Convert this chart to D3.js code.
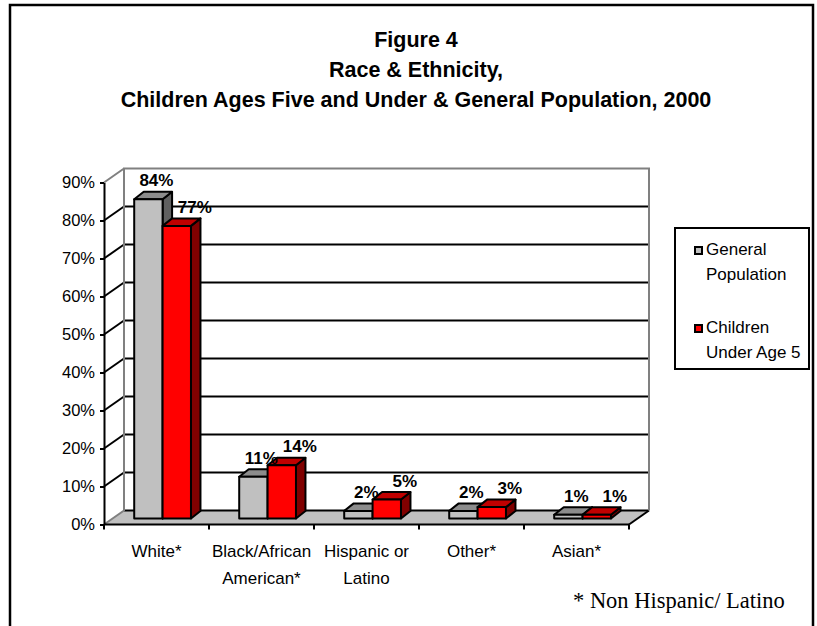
<!DOCTYPE html>
<html>
<head>
<meta charset="utf-8">
<script src="https://cdn.jsdelivr.net/npm/d3@7"></script>
<style>
  body { margin: 0; background: #fff; }
  text { font-family: Arial, "Liberation Sans", sans-serif; }
</style>
</head>
<body>
<svg id="chart" width="817" height="626"></svg>
<script>
const categories = ["White*", "Black/African American*", "Hispanic or Latino", "Other*", "Asian*"];
const categoryLines = [["White*"], ["Black/African", "American*"], ["Hispanic or", "Latino"], ["Other*"], ["Asian*"]];
const seriesNames = ["General Population", "Children Under Age 5"];
const legendLines = [["General", "Population"], ["Children", "Under Age 5"]];
const generalPop = [0.84, 0.11, 0.02, 0.02, 0.01];
const childrenUnder5 = [0.77, 0.14, 0.05, 0.03, 0.01];
const yTicks = [0, 0.1, 0.2, 0.3, 0.4, 0.5, 0.6, 0.7, 0.8, 0.9];
const titleLines = ["Figure 4", "Race & Ethnicity,", "Children Ages Five and Under & General Population, 2000"];
const footnote = "* Non Hispanic/ Latino";

const svg = d3.select("#chart");

// outer frame
svg.append("rect")
  .attr("x", 10).attr("y", 5)
  .attr("width", 803).attr("height", 640)
  .attr("fill", "none").attr("stroke", "#000").attr("stroke-width", 2.5);

// title
svg.append("g").selectAll("text")
  .data(titleLines)
  .enter()
  .append("text")
  .attr("x", 416)
  .attr("y", (d, i) => 46.5 + i * 30)
  .attr("text-anchor", "middle")
  .style("font-size", "21.5px")
  .style("font-weight", "bold")
  .text(d => d);

// 3d geometry
const DX = 20, DY = -14;            // wall depth
const BX = 8.5, BY = -6;            // bar front offset
const BDX = 9.5, BDY = -7.5;        // bar depth

const x = d3.scaleBand().domain(categories).range([104, 629]);
const xs = d3.scaleBand().domain(seriesNames).range([0, x.bandwidth()])
  .paddingOuter(0.85).align(0.45);
const y = d3.scaleLinear().domain([0, 0.9]).range([524.5, 182.5]);

const x0 = 104, x1 = 629;
const yTop = y(0.9), yBase = y(0);

// side wall and back wall (white)
svg.append("path")
  .attr("d", `M${x0},${yBase} L${x0},${yTop} L${x0 + DX},${yTop + DY} L${x0 + DX},${yBase + DY} Z`)
  .attr("fill", "#fff");

// gridlines on back wall and side wall
const grid = svg.append("g");
yTicks.filter(t => t > 0 && t < 0.9).forEach(t => {
  grid.append("line")
    .attr("x1", x0 + DX).attr("x2", x1 + DX)
    .attr("y1", y(t) + DY).attr("y2", y(t) + DY)
    .attr("stroke", "#000").attr("stroke-width", 2);
  grid.append("line")
    .attr("x1", x0).attr("x2", x0 + DX)
    .attr("y1", y(t)).attr("y2", y(t) + DY)
    .attr("stroke", "#000").attr("stroke-width", 2);
});

// floor
svg.append("path")
  .attr("d", `M${x0},${yBase} L${x1},${yBase} L${x1 + DX},${yBase + DY} L${x0 + DX},${yBase + DY} Z`)
  .attr("fill", "#c0c0c0");
svg.append("line")
  .attr("x1", x0 + DX).attr("x2", x1 + DX)
  .attr("y1", yBase + DY).attr("y2", yBase + DY)
  .attr("stroke", "#000").attr("stroke-width", 2);
svg.append("line")
  .attr("x1", x1).attr("x2", x1 + DX)
  .attr("y1", yBase).attr("y2", yBase + DY)
  .attr("stroke", "#000").attr("stroke-width", 2);

// gray wall edges
svg.append("path")
  .attr("d", `M${x0},${yBase} L${x0 + DX},${yBase + DY} L${x0 + DX},${yTop + DY} L${x1 + DX},${yTop + DY} L${x1 + DX},${yBase + DY}
              M${x0},${yTop} L${x0 + DX},${yTop + DY}`)
  .attr("fill", "none").attr("stroke", "#808080").attr("stroke-width", 2);

// y axis
const yAxis = svg.append("g")
  .attr("transform", `translate(${x0},0)`)
  .call(d3.axisLeft(y).tickValues(yTicks).tickFormat(d3.format(".0%")).tickSize(4).tickSizeOuter(0).tickPadding(5));
yAxis.select(".domain").attr("stroke-width", 2);
yAxis.selectAll(".tick line").attr("stroke-width", 2);
yAxis.selectAll("text").style("font-size", "16.5px").attr("fill", "#000")
  .style("font-family", "Arial, 'Liberation Sans', sans-serif");

// x axis line and ticks
svg.append("line")
  .attr("x1", x0).attr("x2", x1)
  .attr("y1", yBase).attr("y2", yBase)
  .attr("stroke", "#000").attr("stroke-width", 2);
const tickXs = categories.map(c => x(c)).concat([x1]);
svg.append("g").selectAll("line")
  .data(tickXs)
  .enter()
  .append("line")
  .attr("x1", d => d).attr("x2", d => d)
  .attr("y1", yBase).attr("y2", yBase + 5)
  .attr("stroke", "#000").attr("stroke-width", 2);

// category labels
const catLabels = svg.append("g").selectAll("text")
  .data(categories)
  .enter()
  .append("text")
  .attr("text-anchor", "middle")
  .style("font-size", "17px");
catLabels.each(function (c, i) {
  d3.select(this).selectAll("tspan")
    .data(categoryLines[i])
    .enter()
    .append("tspan")
    .attr("x", x(c) + x.bandwidth() / 2)
    .attr("y", (d, j) => 557 + j * 27)
    .text(d => d);
});

// bars
const colors = [
  { front: "#c0c0c0", top: "#8c8c8c", side: "#606060" },
  { front: "#ff0000", top: "#c00000", side: "#800000" }
];
const seriesValues = [generalPop, childrenUnder5];
const bars = svg.append("g");
const fmt = d3.format(".0%");
categories.forEach((c, i) => {
  seriesNames.forEach((s, k) => {
    const v = seriesValues[k][i];
    const bx = x(c) + xs(s) + BX;
    const bw = xs.bandwidth();
    const yb = yBase + BY;
    const yt = y(v) + BY;
    const col = colors[k];
    const g = bars.append("g")
      .attr("stroke", "#000").attr("stroke-width", 2).attr("stroke-linejoin", "round");
    g.append("path")
      .attr("d", `M${bx + bw},${yt} L${bx + bw + BDX},${yt + BDY} L${bx + bw + BDX},${yb + BDY} L${bx + bw},${yb} Z`)
      .attr("fill", col.side);
    g.append("path")
      .attr("d", `M${bx},${yt} L${bx + bw},${yt} L${bx + bw + BDX},${yt + BDY} L${bx + BDX},${yt + BDY} Z`)
      .attr("fill", col.top);
    g.append("rect")
      .attr("x", bx).attr("y", yt)
      .attr("width", bw).attr("height", yb - yt)
      .attr("fill", col.front);
  });
});

// value labels
categories.forEach((c, i) => {
  seriesNames.forEach((s, k) => {
    const v = seriesValues[k][i];
    const cx = x(c) + xs(s) + BX + xs.bandwidth() / 2;
    svg.append("text")
      .attr("x", cx + (k === 0 ? 8 : 18))
      .attr("y", y(v) + BY - 13)
      .attr("text-anchor", "middle")
      .style("font-size", "17px")
      .style("font-weight", "bold")
      .text(fmt(v));
  });
});

// legend
const legend = svg.append("g");
legend.append("rect")
  .attr("x", 675).attr("y", 228)
  .attr("width", 134).attr("height", 141)
  .attr("fill", "#fff").attr("stroke", "#000").attr("stroke-width", 2);
seriesNames.forEach((s, k) => {
  const ly = 255 + k * 78;
  legend.append("rect")
    .attr("x", 695).attr("y", ly - 8)
    .attr("width", 7).attr("height", 7)
    .attr("fill", colors[k].front)
    .attr("stroke", "#000").attr("stroke-width", 2);
  legend.append("text")
    .style("font-size", "17px")
    .selectAll("tspan")
    .data(legendLines[k])
    .enter()
    .append("tspan")
    .attr("x", 706)
    .attr("y", (d, j) => ly + j * 25)
    .text(d => d);
});

// footnote
svg.append("text")
  .attr("x", 573).attr("y", 608)
  .style("font-family", "'Times New Roman', 'Liberation Serif', serif")
  .style("font-size", "22.5px")
  .text(footnote);
</script>
</body>
</html>
